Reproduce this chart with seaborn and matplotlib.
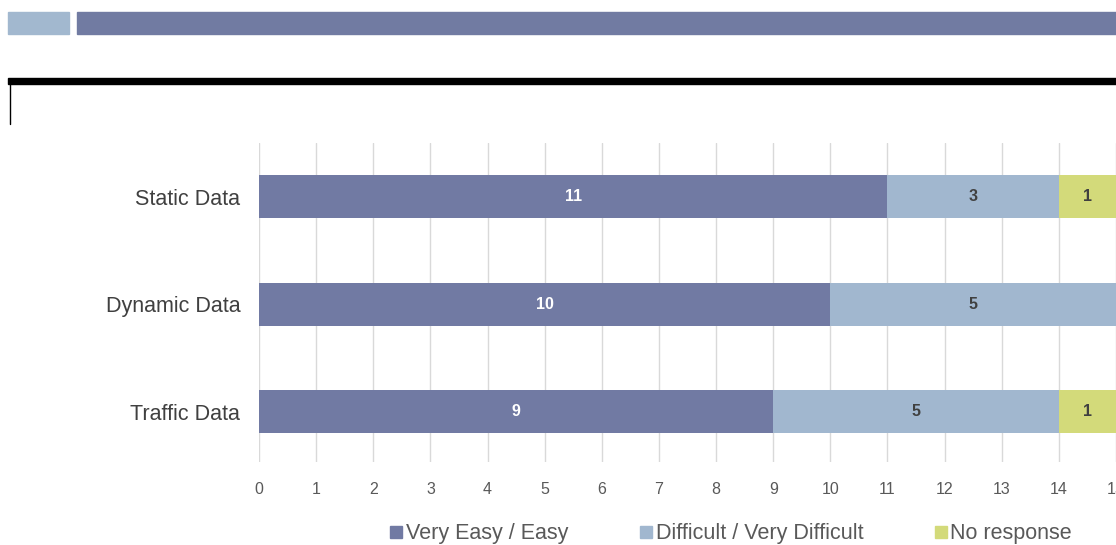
import matplotlib
matplotlib.use("Agg")
import matplotlib.pyplot as plt
from matplotlib.lines import Line2D
from matplotlib.patches import Rectangle
import numpy as np
import pandas as pd
import seaborn as sns

categories = ["Static Data", "Dynamic Data", "Traffic Data"]
series_names = ["Very Easy / Easy", "Difficult / Very Difficult", "No response"]
very_easy = [11, 10, 9]
difficult = [3, 5, 5]
no_response = [1, 0, 1]
x_ticks = list(range(0, 16))

colors = ["#717AA3", "#A1B7CF", "#D3DA7A"]
label_colors = ["white", "#404040", "#404040"]

sns.set_theme(style="white")
plt.rcParams["font.family"] = ["Liberation Sans", "DejaVu Sans"]

fig = plt.figure(figsize=(11.16, 5.45), dpi=100)

# header decoration
fig.patches.append(Rectangle((8 / 1116, 1 - 34 / 545), 61 / 1116, 22 / 545,
                             transform=fig.transFigure, color="#A2B8CF", zorder=0))
fig.patches.append(Rectangle((77 / 1116, 1 - 34 / 545), 1 - 77 / 1116, 22 / 545,
                             transform=fig.transFigure, color="#717BA2", zorder=0))
fig.patches.append(Rectangle((8 / 1116, 1 - 84 / 545), 1 - 8 / 1116, 6 / 545,
                             transform=fig.transFigure, color="black", zorder=0))
fig.lines.append(Line2D([10 / 1116, 10 / 1116], [1 - 84 / 545, 1 - 124 / 545],
                        transform=fig.transFigure, color="black", lw=1))

ax = fig.add_axes([259 / 1116, 83 / 545, 857 / 1116, 319 / 545])

series = [very_easy, difficult, no_response]
cum = np.cumsum(np.array(series, dtype=float), axis=0)

# stacked bars: draw the running totals from the outermost segment inward
for i in range(len(series) - 1, -1, -1):
    df = pd.DataFrame({"category": categories, "value": cum[i]})
    sns.barplot(data=df, x="value", y="category", orient="h", color=colors[i],
                width=0.4, saturation=1, ax=ax, zorder=3, edgecolor="none")

for i, vals in enumerate(series):
    starts = cum[i] - np.array(vals)
    for j, v in enumerate(vals):
        if v > 0:
            ax.text(starts[j] + v / 2, j, str(v), ha="center", va="center",
                    color=label_colors[i], fontsize=11.5, fontweight="bold", zorder=4)

ax.set_xlim(0, 15)
ax.set_ylim(2.47, -0.5)
ax.set_xticks(x_ticks)
ax.set_xticklabels([str(t) for t in x_ticks])
ax.grid(axis="x", color="#D9D9D9", lw=1, zorder=0)
ax.grid(axis="y", visible=False)
for s in ax.spines.values():
    s.set_visible(False)
ax.set_xlabel("")
ax.set_ylabel("")
ax.tick_params(axis="x", length=0, pad=14.5, labelsize=11.5, labelcolor="#595959")
ax.tick_params(axis="y", length=0, pad=13.5, labelsize=15.5, labelcolor="#404040")
ax.xaxis.get_majorticklabels()[-1].set_clip_on(False)

handles = [Line2D([], [], marker="s", linestyle="none", markersize=9,
                  markerfacecolor=c, markeredgecolor=c) for c in colors]
fig.legend(handles, series_names, loc="center", bbox_to_anchor=(731 / 1116, 1 - 534 / 545),
           ncol=3, frameon=False, fontsize=15.5, labelcolor="#595959",
           handlelength=0.6, handletextpad=0.15, columnspacing=3.3, borderpad=0)

fig.savefig("out.png", dpi=100)
